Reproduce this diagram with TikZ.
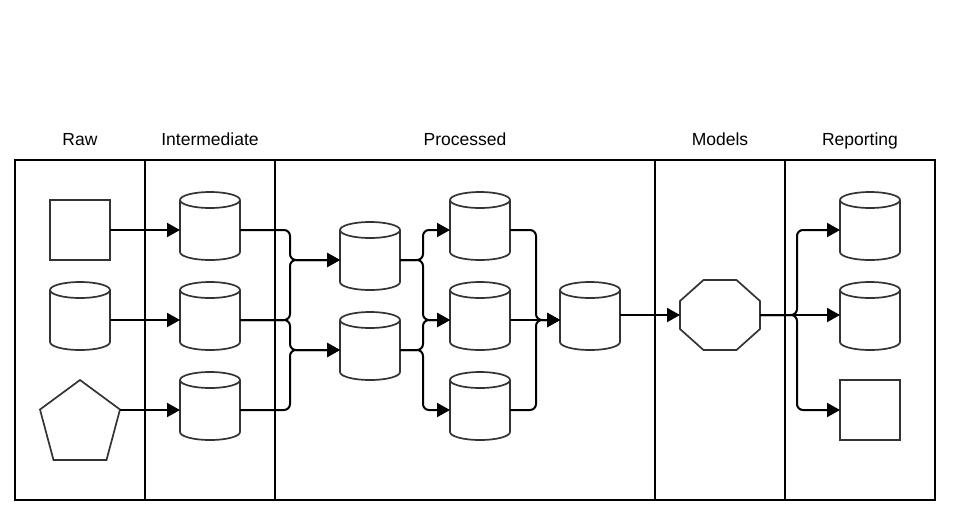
\documentclass[tikz,border=0pt]{standalone}
\usepackage{fontspec}
\setmainfont{Liberation Sans}
\usetikzlibrary{arrows.meta,calc}

\definecolor{ink}{HTML}{333333}

\tikzset{
  frameline/.style={draw=black, line width=2pt},
  outline/.style={draw=ink, line width=1.7pt, line join=miter},
  body/.style={rectangle, draw=none, minimum width=60pt, minimum height=60pt, inner sep=0pt, outer sep=0pt},
  sqbox/.style={rectangle, outline, minimum width=60pt, minimum height=60pt, inner sep=0pt, outer sep=0pt},
  header/.style={anchor=base, inner sep=0pt, font=\fontsize{17.5}{21}\selectfont},
  link/.style={draw=black, line width=2pt, rounded corners=6pt,
    -{Triangle[length=13pt,width=14pt]}},
}

% a storage drum: the named node is the body below the top ellipse
\newcommand\drum[2]{%
  \node[body] (#1) at (#2) {};
  \draw[outline] (#1.north west) -- ($(#1.south west)+(0,-8)$)
    arc[start angle=180, end angle=360, x radius=30pt, y radius=8pt]
    -- (#1.north east);
  \draw[outline] (#1.north) ellipse[x radius=30pt, y radius=8pt];
}

\begin{document}
\begin{tikzpicture}[x=1pt, y=-1pt]
\useasboundingbox (0,0) rectangle (955,520);

% lanes
\draw[frameline] (15,160) rectangle (935,500);
\draw[frameline] (145,160) -- (145,500);
\draw[frameline] (275,160) -- (275,500);
\draw[frameline] (655,160) -- (655,500);
\draw[frameline] (785,160) -- (785,500);

\node[header] (hRaw) at (80,145) {Raw};
\node[header] (hInt) at (210,145) {Intermediate};
\node[header] (hPro) at (465,145) {Processed};
\node[header] (hMod) at (720,145) {Models};
\node[header] (hRep) at (860,145) {Reporting};

% raw sources
\node[sqbox] (rawSq) at (80,230) {};
\drum{rawCyl}{80,320}
\node[body, minimum width=80pt, minimum height=80pt] (P) at (80,420) {};
\draw[outline] (80,380) -- (120,409.5) -- (106.5,460) -- (53.5,460) -- (40,409.5) -- cycle;

% intermediate
\drum{I1}{210,230}
\drum{I2}{210,320}
\drum{I3}{210,410}

% processed
\drum{A}{370,260}
\drum{B}{370,350}
\drum{C1}{480,230}
\drum{C2}{480,320}
\drum{C3}{480,410}
\drum{D}{590,320}

% model
\node[body, minimum width=80pt, minimum height=70pt] (M) at (720,315) {};
\draw[outline] (M.north west) ++(23.5,0) -- ++(33,0) -- ++(23.5,21) -- ++(0,28)
  -- ++(-23.5,21) -- ++(-33,0) -- ++(-23.5,-21) -- ++(0,-28) -- cycle;

% reporting
\drum{R1}{870,230}
\drum{R2}{870,320}
\node[sqbox] (R3) at (870,410) {};

% bus columns
\coordinate (bus1) at (290,0);
\coordinate (bus2) at (423,0);
\coordinate (bus3) at (536,0);
\coordinate (bus4) at (797,0);

% raw -> intermediate
\draw[link] (rawSq.east) -- (I1.west);
\draw[link] (rawCyl.east) -- (I2.west);
\draw[link] (P.east |- I3.west) -- (I3.west);

% intermediate -> processed
\draw[link] (I1.east) -| (bus1 |- A.west) -- (A.west);
\draw[link] (I2.east) -| (bus1 |- A.west) -- (A.west);
\draw[link] (I2.east) -| (bus1 |- B.west) -- (B.west);
\draw[link] (I3.east) -| (bus1 |- B.west) -- (B.west);

\draw[link] (A.east) -| (bus2 |- C1.west) -- (C1.west);
\draw[link] (A.east) -| (bus2 |- C2.west) -- (C2.west);
\draw[link] (B.east) -| (bus2 |- C2.west) -- (C2.west);
\draw[link] (B.east) -| (bus2 |- C3.west) -- (C3.west);

\draw[link] (C1.east) -| (bus3 |- D.west) -- (D.west);
\draw[link] (C2.east) -- (D.west);
\draw[link] (C3.east) -| (bus3 |- D.west) -- (D.west);

% processed -> model
\draw[link] (D.east |- M.west) -- (M.west);

% model -> reporting
\draw[link] (M.east) -| (bus4 |- R1.west) -- (R1.west);
\draw[link] (M.east) -- (M.east -| R2.west);
\draw[link] (M.east) -| (bus4 |- R3.west) -- (R3.west);

\end{tikzpicture}
\end{document}
